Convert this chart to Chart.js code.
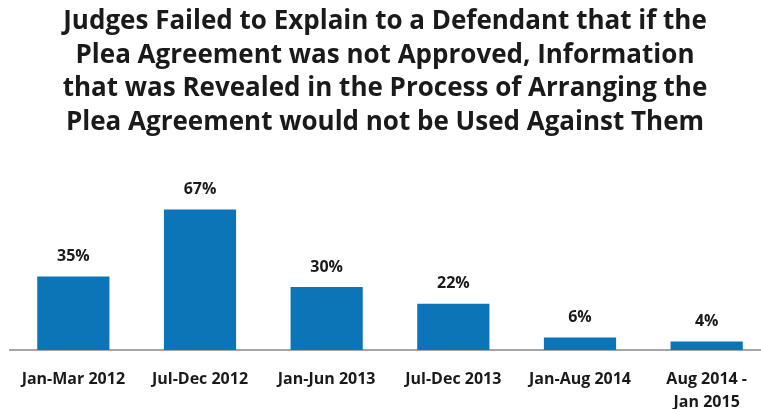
<!DOCTYPE html>
<html>
<head>
<meta charset="utf-8">
<script src="https://cdn.jsdelivr.net/npm/chart.js@4"></script>
<style>
html,body{margin:0;padding:0;background:#fff;overflow:hidden;}
#wrap{width:761px;height:409px;position:relative;overflow:hidden;}
</style>
</head>
<body>
<div id="wrap"><canvas id="c" width="770" height="409"></canvas></div>
<script>
const categories = ["Jan-Mar 2012", "Jul-Dec 2012", "Jan-Jun 2013", "Jul-Dec 2013", "Jan-Aug 2014", ["Aug 2014 -", "Jan 2015"]];
const values = [35, 67, 30, 22, 6, 4];
const titleLines = [
  "Judges Failed to Explain to a Defendant that if the",
  "Plea Agreement was not Approved, Information",
  "that was Revealed in the Process of Arranging the",
  "Plea Agreement would not be Used Against Them"
];
const FONT = "'Open Sans', Lato, sans-serif";
const TEXT = "#1a1a1a";

const valueLabels = {
  id: 'valueLabels',
  afterDatasetsDraw(chart) {
    const ctx = chart.ctx;
    const meta = chart.getDatasetMeta(0);
    ctx.save();
    ctx.font = "bold 16px " + FONT;
    ctx.fillStyle = TEXT;
    ctx.textAlign = 'center';
    ctx.textBaseline = 'middle';
    meta.data.forEach((bar, i) => {
      ctx.fillText(values[i] + '%', bar.x, bar.y - 20);
    });
    ctx.restore();
  }
};

new Chart(document.getElementById('c'), {
  type: 'bar',
  data: {
    labels: categories,
    datasets: [{
      data: values,
      backgroundColor: '#0B75B7',
      borderWidth: 0,
      barPercentage: 0.57,
      categoryPercentage: 1.0
    }]
  },
  options: {
    responsive: false,
    animation: false,
    layout: { padding: { left: 0, right: 0, top: 0, bottom: 0 } },
    plugins: {
      legend: { display: false },
      tooltip: { enabled: false },
      title: {
        display: true,
        text: titleLines,
        color: TEXT,
        font: { family: FONT, size: 26, weight: 'bold', lineHeight: 1.29 },
        padding: { top: 5, bottom: 43 }
      }
    },
    scales: {
      x: {
        grid: { display: false, drawTicks: false },
        border: { display: true, color: '#A6A6A6', width: 2 },
        ticks: {
          color: TEXT,
          font: { family: FONT, size: 16, weight: 'bold', lineHeight: 1.44 },
          padding: 18,
          maxRotation: 0,
          autoSkip: false
        },
        afterFit(scale) { scale.height = 59; }
      },
      y: {
        min: 0,
        max: 80,
        grid: { display: false, drawTicks: false },
        border: { display: false },
        ticks: { display: false },
        afterFit(scale) { scale.width = 10; }
      }
    }
  },
  plugins: [valueLabels]
});
</script>
</body>
</html>
